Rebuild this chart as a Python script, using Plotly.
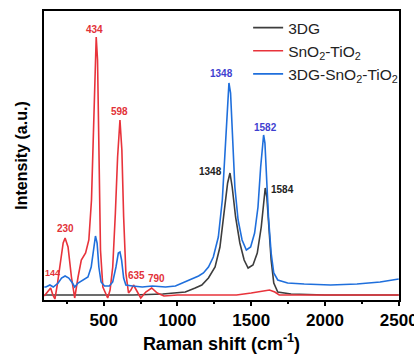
import plotly.graph_objects as go

# ---- data (Raman shift, intensity a.u.) ----
g_x = [97, 300, 500, 700, 900, 986, 1053, 1120, 1165, 1210, 1255, 1288, 1318, 1340, 1356, 1371, 1394, 1423,
       1452, 1479, 1512, 1541, 1568, 1584, 1595, 1606, 1620, 1635, 1653, 1680, 1770, 2000, 2250, 2500]
g_y = [5, 5, 5, 5, 6, 7, 8, 12, 15, 22, 33, 53, 87, 117, 127, 113, 83, 57,
       40, 32, 35, 47, 73, 100, 112, 103, 77, 40, 17, 8, 6, 5, 5, 5]

r_x = [97, 108, 125, 140, 155, 169, 185, 202, 225, 238, 258, 281, 303, 326, 348, 377, 399, 417, 431, 444,
       449, 458, 467, 478, 494, 511, 527, 543, 561, 579, 594, 610, 623, 635, 650, 668, 684, 702, 722, 751,
       785, 825, 863, 908, 1000, 1200, 1400, 1500, 1580, 1624, 1660, 1690, 1900, 2200, 2500]
r_y = [4, 6, 10, 12, 5, 1, 15, 33, 57, 62, 53, 23, 2, 23, 40, 47, 60, 100, 183, 253,
       263, 240, 150, 50, 13, 7, 2, 10, 33, 87, 143, 180, 150, 83, 27, 7, 10, 15, 10, 2,
       8, 12, 7, 4, 5, 5, 5, 7, 9, 10, 8, 5, 5, 5, 5]

b_x = [97, 108, 135, 158, 191, 214, 238, 263, 288, 303, 326, 359, 393, 415, 431, 444, 455, 467, 482, 505,
       538, 561, 583, 599, 610, 621, 635, 650, 695, 762, 829, 919, 986, 1053, 1109, 1143, 1176, 1210, 1243,
       1277, 1304, 1326, 1340, 1349, 1360, 1373, 1389, 1411, 1438, 1467, 1496, 1523, 1546, 1564, 1577, 1584,
       1593, 1604, 1617, 1635, 1653, 1680, 1747, 1859, 2038, 2217, 2374, 2500]
b_y = [13, 13, 15, 13, 17, 22, 24, 22, 17, 13, 17, 20, 23, 33, 53, 64, 57, 33, 18, 14,
       14, 18, 33, 47, 48, 40, 22, 15, 14, 13, 14, 13, 14, 18, 22, 24, 27, 33, 43,
       63, 100, 157, 200, 217, 207, 160, 113, 80, 60, 50, 53, 67, 93, 133, 160, 165,
       157, 123, 83, 47, 27, 20, 17, 16, 15, 16, 18, 21]

# peak annotations: (x, y, text, colour)
ann_x = [438, 610, 238, 151, 724, 858, 1297, 1595, 1221, 1714]
ann_y = [271, 189, 72, 27, 25, 22, 227, 173, 129, 111]
ann_t = ["434", "598", "230", "144", "635", "790", "1348", "1582", "1348", "1584"]
ann_c = ["#e23238"] * 6 + ["#3f3fd0"] * 2 + ["#222222"] * 2

x_ticks = [500, 1000, 1500, 2000, 2500]

fig = go.Figure()
fig.add_trace(go.Scatter(x=g_x, y=g_y, mode="lines", name="3DG",
                         line=dict(color="#3d3d3d", width=1.6)))
fig.add_trace(go.Scatter(x=r_x, y=r_y, mode="lines", name="SnO<sub>2</sub>-TiO<sub>2</sub>",
                         line=dict(color="#e8333b", width=1.6)))
fig.add_trace(go.Scatter(x=b_x, y=b_y, mode="lines", name="3DG-SnO<sub>2</sub>-TiO<sub>2</sub>",
                         line=dict(color="#1f6fdc", width=1.6)))

for x, y, t, c in zip(ann_x, ann_y, ann_t, ann_c):
    fig.add_annotation(x=x, y=y, text=t, showarrow=False,
                       font=dict(family="Arial", size=10 if t != "144" else 9, color=c, weight="bold"))

fig.update_layout(
    width=414, height=354,
    margin=dict(l=44, r=12, t=11, b=54),
    plot_bgcolor="white", paper_bgcolor="white",
    showlegend=True,
    legend=dict(x=0.575, y=1.0, xanchor="left", yanchor="top",
                font=dict(family="Arial", size=15.5, color="#222"),
                bgcolor="rgba(0,0,0,0)", tracegroupgap=0, itemwidth=30),
    font=dict(family="Arial"),
)
fig.update_xaxes(range=[95, 2502], tickvals=x_ticks, showline=True, linecolor="black", linewidth=2,
                 mirror=True, ticks="outside", ticklen=4, tickwidth=1.5, tickcolor="black",
                 ticklabeloverflow="allow", automargin=False,
                 minor=dict(dtick=250, tick0=0, ticks="outside", ticklen=2, tickcolor="black"),
                 showgrid=False, zeroline=False,
                 tickfont=dict(family="Arial", size=17, color="black", weight="bold"),
                 title=dict(text="Raman shift (cm<sup>-1</sup>)", standoff=8,
                            font=dict(family="Arial", size=18, color="black", weight="bold")))
fig.update_yaxes(range=[0, 289], showline=True, linecolor="black", linewidth=2, mirror=True,
                 showticklabels=False, ticks="", showgrid=False, zeroline=False,
                 title=dict(text="Intensity (a.u.)", standoff=10,
                            font=dict(family="Arial", size=16, color="black", weight="bold")))

fig.write_html("out.html")
